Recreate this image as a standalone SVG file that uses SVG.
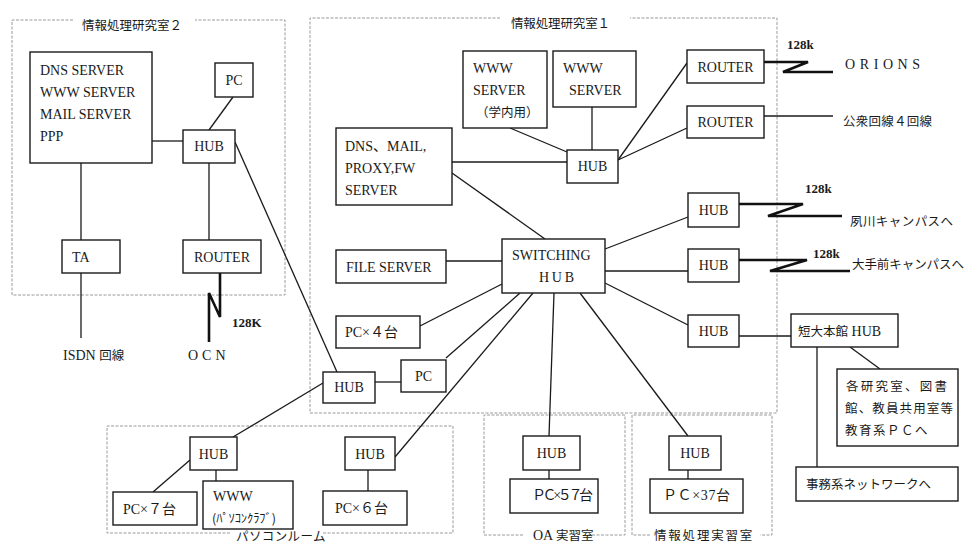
<svg xmlns="http://www.w3.org/2000/svg" width="966" height="544" viewBox="0 0 966 544">
<style>
.bg{fill:#fff}
.box{fill:#fff;stroke:#1a1a1a;stroke-width:1.4}
.frame{fill:none;stroke:#9a9a9a;stroke-width:1;stroke-dasharray:3 1.5}
.ln{fill:none;stroke:#1a1a1a;stroke-width:1.3}
.zig{fill:none;stroke:#111;stroke-width:2.6;stroke-linejoin:miter}
text{font-family:"Liberation Serif","Noto Sans CJK JP",serif;font-size:14px;fill:#1a1a1a}
.c{text-anchor:middle}
.jp{font-family:"Noto Sans CJK JP","Liberation Serif",sans-serif;font-size:12.5px}
.sm{font-size:13px;font-weight:bold}
</style>
<rect class="bg" x="0" y="0" width="966" height="544"/>

<g id="frames">
  <path class="frame" d="M73 20 H12 V295 H285 V20 H195"/>
  <text class="jp" x="82" y="30" textLength="100">情報処理研究室２</text>
  <path class="frame" d="M500 18 H310 V413 H777 V18 H630"/>
  <text class="jp" x="511" y="28" textLength="99">情報処理研究室１</text>
  <path class="frame" d="M230 533 H107 V426 H453 V533 H322"/>
  <text class="jp" x="236" y="541" font-size="11" letter-spacing="0.4">パソコンルーム</text>
  <path class="frame" d="M523 535 H484 V415 H625 V535 H588"/>
  <text x="533" y="540" font-size="13">OA <tspan class="jp" font-size="12">実習室</tspan></text>
  <path class="frame" d="M650 535 H632 V415 H772 V535 H760"/>
  <text class="jp" x="654" y="540" font-size="13" letter-spacing="1.8">情報処理実習室</text>
</g>

<g id="connectors">
  <path class="ln" d="M152 141 H183"/>
  <path class="ln" d="M233 97 L209 130"/>
  <path class="ln" d="M209 163 V240"/>
  <path class="ln" d="M81 163 V240"/>
  <path class="ln" d="M81 273 V338"/>
  <path class="zig" d="M220 273 V317 L209 293 V342"/>
  <path class="ln" d="M235 142 L337 372"/>
  <path class="ln" d="M510 128 L567 152"/>
  <path class="ln" d="M592 107 V150"/>
  <path class="ln" d="M452 162 H567"/>
  <path class="ln" d="M618 160 L687 63"/>
  <path class="ln" d="M618 160 L687 128"/>
  <path class="zig" d="M764 62 H808 L783 72 H833"/>
  <path class="ln" d="M764 116 H833"/>
  <path class="ln" d="M452 173 L545 239"/>
  <path class="ln" d="M446 261 H502"/>
  <path class="ln" d="M420 326 L502 284"/>
  <path class="ln" d="M446 358 L520 293"/>
  <path class="ln" d="M375 382 H401"/>
  <path class="ln" d="M323 383 L233 437"/>
  <path class="ln" d="M190 460 L153 492"/>
  <path class="ln" d="M216 470 V481"/>
  <path class="ln" d="M533 293 L395 457"/>
  <path class="ln" d="M368 470 V491"/>
  <path class="ln" d="M554 293 L549 436"/>
  <path class="ln" d="M549 470 V479"/>
  <path class="ln" d="M580 293 L688 436"/>
  <path class="ln" d="M688 470 V479"/>
  <path class="ln" d="M605 249 L688 217"/>
  <path class="ln" d="M605 271 H688"/>
  <path class="ln" d="M605 283 L688 325"/>
  <path class="zig" d="M739 204 H803 L768 216 H842"/>
  <path class="zig" d="M739 260 H807 L770 271 H850"/>
  <path class="ln" d="M739 336 H791"/>
  <path class="ln" d="M850 347 L880 369"/>
  <path class="ln" d="M817 347 V467"/>
</g>

<g id="labels">
  <text x="63" y="360" font-size="13">ISDN <tspan class="jp" font-size="12.5">回線</tspan></text>
  <text x="188" y="360" font-size="12" letter-spacing="4">OCN</text>
  <text x="232" y="327" class="sm">128K</text>
  <text x="787" y="49" class="sm">128k</text>
  <text x="845" y="69" font-size="13" letter-spacing="4.6">ORIONS</text>
  <text x="843" y="126" class="jp" textLength="89">公衆回線４回線</text>
  <text x="805" y="193" class="sm">128k</text>
  <text x="850" y="226" class="jp" textLength="103">夙川キャンパスへ</text>
  <text x="813" y="258" class="sm">128k</text>
  <text x="852" y="269" class="jp" textLength="112">大手前キャンパスへ</text>
</g>

<g id="n_dns2"><rect class="box" x="30" y="52" width="122" height="111"/>
  <text x="40" y="75">DNS SERVER</text><text x="40" y="97">WWW SERVER</text><text x="40" y="119">MAIL SERVER</text><text x="40" y="141">PPP</text></g>
<g id="n_pc2"><rect class="box" x="215" y="63" width="38" height="34"/><text class="c" x="234" y="85">PC</text></g>
<g id="n_hub2"><rect class="box" x="183" y="130" width="52" height="33"/><text class="c" x="209" y="151">HUB</text></g>
<g id="n_ta"><rect class="box" x="62" y="240" width="58" height="33"/><text x="72" y="262">TA</text></g>
<g id="n_router2"><rect class="box" x="183" y="240" width="78" height="33"/><text class="c" x="222" y="262">ROUTER</text></g>

<g id="n_www_in"><rect class="box" x="463" y="51" width="84" height="77"/>
  <text x="473" y="73">WWW</text><text x="473" y="95">SERVER</text><text x="476" y="117" class="jp" font-size="12">（学内用）</text></g>
<g id="n_www"><rect class="box" x="553" y="51" width="83" height="56"/>
  <text x="563" y="73">WWW</text><text x="569" y="95">SERVER</text></g>
<g id="n_dns1"><rect class="box" x="336" y="128" width="116" height="77"/>
  <text x="345" y="151">DNS、MAIL,</text><text x="345" y="173">PROXY,FW</text><text x="345" y="195">SERVER</text></g>
<g id="n_hub1"><rect class="box" x="567" y="150" width="51" height="33"/><text class="c" x="592.5" y="171">HUB</text></g>
<g id="n_router_a"><rect class="box" x="687" y="50" width="77" height="33"/><text class="c" x="725.5" y="72">ROUTER</text></g>
<g id="n_router_b"><rect class="box" x="687" y="106" width="77" height="32"/><text class="c" x="725.5" y="127">ROUTER</text></g>
<g id="n_file"><rect class="box" x="336" y="250" width="110" height="33"/><text x="346" y="272">FILE SERVER</text></g>
<g id="n_swhub"><rect class="box" x="502" y="239" width="103" height="54"/>
  <text x="512" y="260">SWITCHING</text><text x="539" y="282" textLength="35">HUB</text></g>
<g id="n_pc4"><rect class="box" x="336" y="316" width="84" height="32"/><text x="345" y="337">PC×４台</text></g>
<g id="n_pc1"><rect class="box" x="401" y="360" width="45" height="32"/><text class="c" x="423.5" y="381">PC</text></g>
<g id="n_hub_low"><rect class="box" x="323" y="372" width="52" height="31"/><text class="c" x="349" y="392">HUB</text></g>
<g id="n_hub_a"><rect class="box" x="688" y="193" width="51" height="34"/><text class="c" x="713.5" y="215">HUB</text></g>
<g id="n_hub_b"><rect class="box" x="688" y="249" width="51" height="33"/><text class="c" x="713.5" y="270">HUB</text></g>
<g id="n_hub_c"><rect class="box" x="688" y="315" width="51" height="32"/><text class="c" x="713.5" y="336">HUB</text></g>
<g id="n_tandai"><rect class="box" x="791" y="314" width="107" height="33"/><text x="798" y="336"><tspan class="jp" font-size="13">短大本館</tspan> HUB</text></g>
<g id="n_kaku"><rect class="box" x="837" y="369" width="121" height="77"/>
  <text x="846" y="391" class="jp" textLength="101">各研究室、図書</text>
  <text x="845" y="413" class="jp" textLength="108">館、教員共用室等</text>
  <text x="845" y="435" class="jp" letter-spacing="1.5">教育系ＰＣへ</text></g>
<g id="n_jimu"><rect class="box" x="796" y="467" width="162" height="34"/><text x="806" y="489" class="jp" font-size="10.5">事務系ネットワークへ</text></g>

<g id="n_hub_pr1"><rect class="box" x="190" y="437" width="47" height="33"/><text class="c" x="213.5" y="459">HUB</text></g>
<g id="n_pc7"><rect class="box" x="113" y="492" width="84" height="33"/><text x="123" y="514">PC×７台</text></g>
<g id="n_www_club"><rect class="box" x="203" y="481" width="90" height="48"/>
  <text x="213" y="501">WWW</text><text x="212" y="523" class="jp" font-size="10" textLength="64">(ﾊﾟｿｺﾝｸﾗﾌﾞ)</text></g>
<g id="n_hub_pr2"><rect class="box" x="345" y="437" width="50" height="33"/><text class="c" x="370" y="459">HUB</text></g>
<g id="n_pc6"><rect class="box" x="323" y="491" width="84" height="34"/><text x="335" y="513">PC×６台</text></g>
<g id="n_hub_oa"><rect class="box" x="523" y="436" width="57" height="34"/><text class="c" x="551.5" y="458">HUB</text></g>
<g id="n_pc57"><rect class="box" x="510" y="479" width="88" height="34"/><text x="532" y="500" textLength="61">ＰＣ×５７台</text></g>
<g id="n_hub_jo"><rect class="box" x="669" y="436" width="52" height="34"/><text class="c" x="695" y="458">HUB</text></g>
<g id="n_pc37"><rect class="box" x="650" y="479" width="93" height="34"/><text x="663" y="500" textLength="67">ＰＣ×37台</text></g>
</svg>
